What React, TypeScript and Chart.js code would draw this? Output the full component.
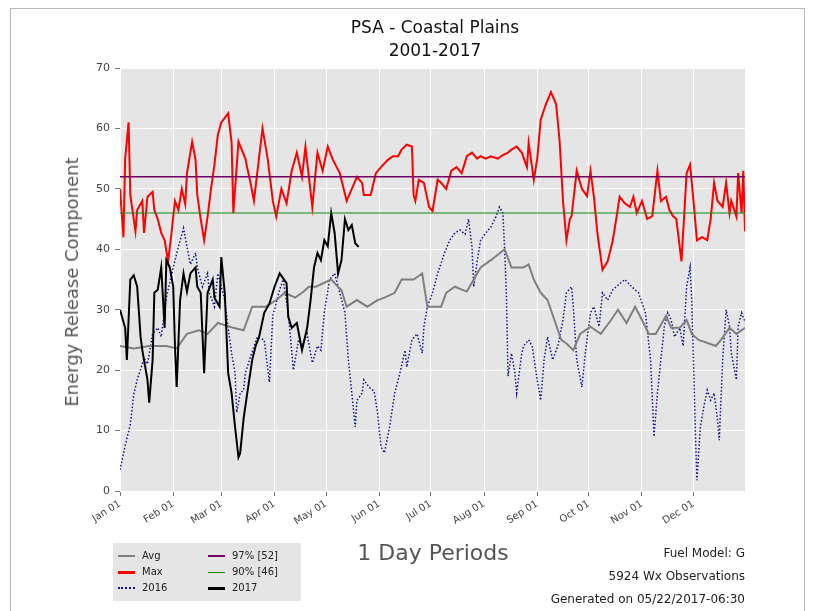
import React, { useEffect, useRef } from "react";
import { Chart, registerables } from "chart.js";

Chart.register(...registerables);

// ---- Data (day of year, value) ----
const monthDays = [0, 31, 59, 90, 120, 151, 181, 212, 243, 273, 304, 334];
const monthLabels = ["Jan 01", "Feb 01", "Mar 01", "Apr 01", "May 01", "Jun 01", "Jul 01", "Aug 01", "Sep 01", "Oct 01", "Nov 01", "Dec 01"];
const yTickStep = 10;
const yMin = 0;
const yMax = 70;

const pct97 = 52;
const pct90 = 46;

const maxSeries: [number, number][] = [
  [0, 50], [2, 42], [3, 55], [5, 61], [6, 49], [7, 47], [9, 43], [10, 46.5], [13, 48], [14, 42.7], [16, 48.7], [19, 49.5],
  [20, 46.5], [22, 45], [24, 42.7], [26, 41.5], [28, 38], [30, 42.7], [32, 48], [34, 46.5], [36, 50], [38, 47.5], [39, 52.6],
  [42, 57.8], [44, 54.8], [45, 49], [47, 45], [49, 41.5], [51, 45.4], [53, 50], [55, 54], [57, 59], [59, 61], [63, 62.5],
  [65, 57.6], [66, 46], [69, 57.8], [73, 55], [74, 53.6], [76, 51], [78, 48], [83, 60], [86, 55], [89, 48], [91, 45.4],
  [94, 50], [97, 47.6], [100, 53], [103, 56], [106, 52], [108, 57], [112, 47], [115, 56], [118, 53], [121, 57], [124, 54.8],
  [128, 52.6], [132, 48], [135, 50], [138, 52], [141, 51], [142, 49], [146, 49], [149, 52.6], [152, 53.6], [156, 54.8],
  [159, 55.4], [162, 55.4], [164, 56.5], [167, 57.3], [170, 57], [171, 49], [172, 48], [174, 51.5], [177, 51], [180, 47],
  [182, 46.3], [185, 51.5], [187, 51], [190, 50], [193, 53], [196, 53.6], [199, 52.6], [202, 55.4], [205, 56], [208, 55],
  [210, 55.4], [213, 55], [216, 55.4], [220, 55], [223, 55.6], [226, 56], [228, 56.5], [231, 57], [234, 56], [237, 53.6],
  [238, 57.6], [241, 51.5], [243, 55], [245, 61.4], [248, 64], [251, 66], [254, 64], [256, 58], [258, 48], [260, 41.5],
  [262, 45], [263, 45.5], [266, 53], [269, 50], [272, 48.8], [274, 53], [276, 48.7], [278, 42.7], [281, 36.6], [284, 38],
  [287, 41.5], [289, 45], [291, 48.7], [294, 47.6], [297, 47], [299, 48.7], [301, 46], [304, 48], [307, 45], [310, 45.5],
  [313, 53], [315, 48], [318, 48.7], [320, 46.5], [322, 45.5], [324, 45], [327, 38], [330, 52.6], [332, 54], [334, 48],
  [336, 41.5], [339, 42], [342, 41.5], [344, 45], [346, 51], [348, 48], [351, 47], [353, 51], [355, 46], [356, 48],
  [359, 45.4], [360, 52.6], [362, 46], [363, 53], [364, 43],
];

const avgSeries: [number, number][] = [
  [0, 24], [8, 23.6], [17, 24], [27, 24], [33, 23.6], [39, 26], [46, 26.6], [51, 26], [57, 27.8], [66, 27], [72, 26.6],
  [77, 30.5], [85, 30.5], [91, 31.6], [96, 32.8], [102, 32], [107, 33], [110, 33.8], [114, 33.8], [123, 35], [129, 33.2],
  [132, 30.5], [138, 31.6], [144, 30.5], [150, 31.6], [154, 32], [160, 32.8], [164, 35], [171, 35], [176, 36], [179, 30.5],
  [187, 30.5], [190, 32.8], [195, 33.8], [202, 33], [206, 35], [210, 37], [216, 38.2], [224, 40], [228, 37], [235, 37],
  [238, 37.5], [241, 35], [245, 32.8], [249, 31.6], [253, 28.3], [257, 25], [260, 24.4], [264, 23.3], [268, 26], [274, 27.2],
  [280, 26], [286, 28.3], [290, 30], [295, 27.8], [300, 30.5], [304, 28.3], [308, 26], [312, 26], [318, 29], [321, 27],
  [326, 27], [330, 28.3], [333, 26], [337, 25], [343, 24.4], [347, 24], [350, 25], [355, 27], [359, 26], [364, 27],
];

const series2016: [number, number][] = [
  [0, 3.5], [3, 7.5], [6, 11], [8, 16], [10, 18.4], [13, 21], [14, 22], [16, 21], [19, 26], [22, 27], [24, 25.5], [27, 32],
  [31, 37], [34, 40.4], [37, 43.5], [39, 40.4], [41, 37.5], [44, 39.4], [45, 37], [48, 33.8], [51, 36], [52, 32.8], [55, 30.5],
  [57, 36], [59, 33.8], [61, 31.6], [63, 27], [65, 22.8], [67, 19.5], [68, 13], [70, 16.2], [72, 16.7], [73, 19.5], [76, 22.2],
  [80, 25.5], [84, 25], [87, 18], [89, 29], [93, 33.3], [95, 35], [98, 29.5], [101, 20], [104, 25], [106, 24], [109, 26],
  [112, 21.2], [115, 24], [117, 23.3], [119, 29.5], [122, 35], [125, 36], [128, 32.8], [131, 29.5], [133, 21.7], [135, 16.2],
  [137, 10.6], [138, 15], [141, 16.2], [142, 18.4], [145, 17.2], [148, 16.5], [150, 13], [152, 7.3], [154, 6.3], [157, 10.6],
  [160, 16.2], [163, 19.5], [166, 23.3], [167, 20.5], [170, 25], [173, 26], [176, 22.8], [177, 27.2], [179, 30.5], [182, 32.8],
  [185, 36], [189, 39.4], [192, 41.5], [195, 42.7], [198, 43.2], [201, 42.5], [203, 45], [205, 40.4], [206, 33.8], [208, 38],
  [210, 41.5], [213, 42.7], [216, 43.7], [219, 45.4], [221, 47], [223, 46], [224, 40], [225, 32.8], [226, 19], [228, 22.8],
  [230, 19.5], [231, 16.2], [234, 22.8], [235, 24], [238, 25], [240, 24], [243, 18.4], [245, 15], [247, 21.7], [249, 25.5],
  [252, 21.7], [255, 24], [258, 28.3], [260, 32.8], [263, 33.8], [264, 30.5], [266, 21.7], [269, 17.2], [271, 22.8], [274, 29.5],
  [276, 30.5], [279, 27.2], [281, 32.8], [284, 31.6], [287, 33.3], [289, 33.8], [294, 35], [298, 33.8], [302, 32.8], [306, 29.5],
  [309, 21.7], [311, 9], [313, 16.2], [315, 21.7], [317, 27.2], [319, 29.5], [321, 28.3], [323, 25.5], [326, 27], [328, 24],
  [330, 33.8], [332, 37], [333, 31.6], [334, 21.7], [335, 10.6], [336, 1.8], [338, 10.6], [340, 13.9], [342, 16.7], [344, 15],
  [346, 16.2], [348, 11.7], [349, 8.4], [351, 21.7], [353, 30], [355, 27.2], [356, 22.8], [359, 18.4], [360, 27.2], [362, 29.5],
  [364, 28],
];

const series2017: [number, number][] = [
  [0, 30], [3, 27], [4, 21.7], [6, 35], [8, 35.7], [10, 33.8], [12, 25.5], [13, 23.3], [16, 18.4], [17, 14.6], [19, 21.7],
  [20, 32.8], [22, 33.3], [24, 37], [26, 27], [27, 38.2], [29, 37], [31, 33.8], [32, 24], [33, 17.2], [35, 31.6], [37, 36],
  [39, 33], [41, 36], [44, 37], [45, 33.8], [47, 32.8], [49, 19.5], [51, 32.8], [54, 35], [55, 32], [58, 30.5], [59, 38.7],
  [61, 32.8], [63, 19.5], [65, 16.2], [67, 10.6], [69, 5.6], [70, 6.3], [72, 12], [74, 16], [77, 21.7], [79, 24], [81, 25.5],
  [84, 29.5], [87, 31], [90, 33.8], [93, 36], [97, 34.4], [98, 28.8], [100, 27], [103, 27.8], [106, 23.3], [109, 27],
  [111, 31.6], [113, 37], [115, 39.4], [117, 38.2], [119, 41.5], [121, 40.5], [123, 46], [125, 42.7], [127, 36], [129, 38.2],
  [131, 45], [133, 43.2], [135, 44], [137, 41], [139, 40.4],
];

const FONT = "'DejaVu Sans', 'Liberation Sans', sans-serif";

const toPts = (s: [number, number][]) => s.map(([x, y]) => ({ x, y }));

const bgPlugin = {
  id: "plotBg",
  beforeDraw(chart: any) {
    const { ctx, chartArea } = chart;
    if (!chartArea) return;
    ctx.save();
    ctx.fillStyle = "#e5e5e5";
    ctx.fillRect(chartArea.left, chartArea.top, chartArea.right - chartArea.left, chartArea.bottom - chartArea.top);
    ctx.restore();
  },
};

function ChartCanvas() {
  const ref = useRef<HTMLCanvasElement | null>(null);
  useEffect(() => {
    if (!ref.current) return;
    const chart = new Chart(ref.current, {
      type: "line",
      data: {
        datasets: [
          {
            label: "97% [52]",
            data: [{ x: 0, y: pct97 }, { x: 364, y: pct97 }],
            borderColor: "#700060",
            borderWidth: 1.3,
            pointRadius: 0,
            order: 0,
          },
          {
            label: "90% [46]",
            data: [{ x: 0, y: pct90 }, { x: 364, y: pct90 }],
            borderColor: "#118811",
            borderWidth: 1,
            pointRadius: 0,
            order: 0,
          },
          {
            label: "2017",
            data: toPts(series2017),
            borderColor: "#000000",
            borderWidth: 2,
            pointRadius: 0,
            order: 1,
          },
          {
            label: "Max",
            data: toPts(maxSeries),
            borderColor: "#ff0000",
            borderWidth: 2,
            pointRadius: 0,
            order: 2,
          },
          {
            label: "Avg",
            data: toPts(avgSeries),
            borderColor: "#808080",
            borderWidth: 2,
            pointRadius: 0,
            order: 3,
          },
          {
            label: "2016",
            data: toPts(series2016),
            borderColor: "#10109a",
            borderWidth: 1.5,
            borderDash: [1.5, 2],
            pointRadius: 0,
            order: 4,
          },
        ],
      },
      options: {
        animation: false,
        responsive: false,
        maintainAspectRatio: false,
        layout: { padding: { left: 0, top: 68, right: 72, bottom: 70 } },
        plugins: {
          legend: { display: false },
          title: { display: false },
          tooltip: { enabled: false },
        },
        elements: { line: { tension: 0 } },
        scales: {
          x: {
            type: "linear",
            min: 0,
            max: 364,
            afterBuildTicks: (scale: any) => {
              scale.ticks = monthDays.map((v) => ({ value: v }));
            },
            afterFit: (scale: any) => {
              scale.height = 50;
            },
            ticks: {
              autoSkip: false,
              minRotation: 32,
              maxRotation: 32,
              padding: 2,
              color: "#444",
              font: { family: FONT, size: 10 },
              callback: (v: any) => {
                const i = monthDays.indexOf(Number(v));
                return i >= 0 ? monthLabels[i] : "";
              },
            },
            grid: { color: "#ffffff", lineWidth: 1, tickColor: "#777", tickLength: 5 },
            border: { display: false },
          },
          y: {
            min: yMin,
            max: yMax,
            afterFit: (scale: any) => {
              scale.width = 120;
            },
            ticks: {
              stepSize: yTickStep,
              padding: 5,
              color: "#444",
              font: { family: FONT, size: 11 },
            },
            grid: { color: "#ffffff", lineWidth: 1, tickColor: "#777", tickLength: 5 },
            border: { display: false },
          },
        },
      },
      plugins: [bgPlugin],
    } as any);
    return () => chart.destroy();
  }, []);
  return (
    <canvas
      ref={ref}
      width={817}
      height={611}
      style={{ position: "absolute", left: 0, top: 0, width: 817, height: 611 }}
    />
  );
}

const legendCol1 = [
  { label: "Avg", color: "#808080", dash: false, w: 2 },
  { label: "Max", color: "#ff0000", dash: false, w: 3 },
  { label: "2016", color: "#10109a", dash: true, w: 2 },
];
const legendCol2 = [
  { label: "97% [52]", color: "#700060", dash: false, w: 2 },
  { label: "90% [46]", color: "#118811", dash: false, w: 1 },
  { label: "2017", color: "#000000", dash: false, w: 3 },
];
const infoLines = ["Fuel Model: G", "5924 Wx Observations", "Generated on 05/22/2017-06:30"];

export default function App() {
  const abs = (extra: any) => ({ position: "absolute" as const, whiteSpace: "nowrap" as const, fontFamily: FONT, lineHeight: 1, ...extra });
  const rowY = [556, 572, 588];
  return (
    <div style={{ position: "absolute", left: 0, top: 0, width: 817, height: 611, background: "#fff", overflow: "hidden" }}>
      <div style={{ position: "absolute", left: 10, top: 8, width: 795, height: 620, border: "1px solid #b8b8b8", boxSizing: "border-box" }} />
      <ChartCanvas />
      <div style={abs({ left: 435, top: 27, transform: "translate(-50%,-50%)", fontSize: 17, color: "#111" })}>PSA - Coastal Plains</div>
      <div style={abs({ left: 435, top: 50, transform: "translate(-50%,-50%)", fontSize: 17, color: "#111" })}>2001-2017</div>
      <div style={abs({ left: 72, top: 282, transform: "translate(-50%,-50%) rotate(-90deg)", fontSize: 18, color: "#555" })}>
        Energy Release Component
      </div>
      <div style={abs({ left: 433, top: 553, transform: "translate(-50%,-50%)", fontSize: 22, color: "#555" })}>1 Day Periods</div>
      {infoLines.map((t, i) => (
        <div key={t} style={abs({ right: 72, top: 553 + i * 23, transform: "translateY(-50%)", fontSize: 12, color: "#222" })}>
          {t}
        </div>
      ))}
      <div style={{ position: "absolute", left: 113, top: 543, width: 188, height: 58, background: "#e5e5e5" }} />
      {legendCol1.map((it, i) => (
        <React.Fragment key={it.label}>
          <div
            style={{
              position: "absolute",
              left: 118,
              top: rowY[i] - it.w / 2,
              width: 17,
              height: 0,
              borderTop: `${it.w}px ${it.dash ? "dotted" : "solid"} ${it.color}`,
            }}
          />
          <div style={abs({ left: 142, top: rowY[i], transform: "translateY(-50%)", fontSize: 10, color: "#222" })}>{it.label}</div>
        </React.Fragment>
      ))}
      {legendCol2.map((it, i) => (
        <React.Fragment key={it.label}>
          <div
            style={{
              position: "absolute",
              left: 208,
              top: rowY[i] - it.w / 2,
              width: 17,
              height: 0,
              borderTop: `${it.w}px solid ${it.color}`,
            }}
          />
          <div style={abs({ left: 232, top: rowY[i], transform: "translateY(-50%)", fontSize: 10, color: "#222" })}>{it.label}</div>
        </React.Fragment>
      ))}
    </div>
  );
}
